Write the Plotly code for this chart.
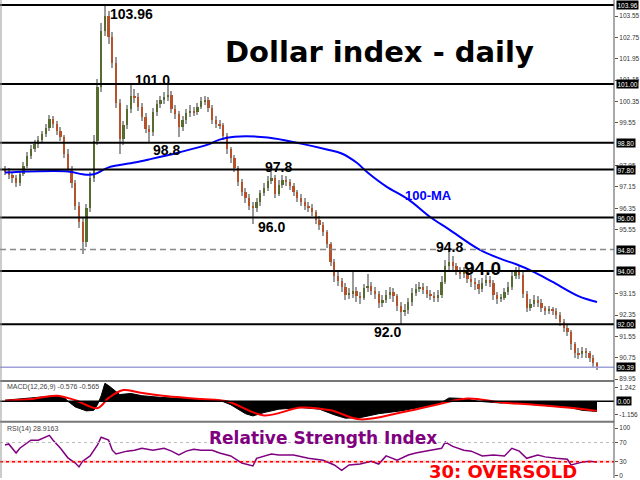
import plotly.graph_objects as go

# ---------------- data ----------------
opens = [97.80, 97.73, 97.60, 97.48, 97.28, 97.62, 97.95, 98.30, 98.58, 98.75,
         98.92, 99.12, 99.36, 99.70, 99.50, 99.25, 99.00, 98.40, 97.82, 97.30,
         96.45, 95.85, 95.10, 96.35, 97.50, 98.85, 100.90, 103.00, 103.55, 102.75,
         101.80, 100.30, 98.95, 99.45, 100.05, 100.55, 100.50, 100.15, 99.75, 99.30,
         99.20, 99.95, 100.25, 100.40, 100.50, 100.60, 100.05, 99.88, 99.40, 99.65,
         99.90, 100.00, 99.95, 100.15, 100.35, 100.40, 100.10, 99.65, 99.50, 99.45,
         99.05, 98.55, 98.22, 97.85, 97.35, 96.95, 96.75, 96.45, 96.35, 96.60,
         96.92, 97.12, 97.38, 97.50, 96.90, 97.22, 97.42, 97.33, 97.18, 96.95,
         96.75, 96.60, 96.45, 96.35, 96.20, 95.90, 95.72, 95.45, 95.02, 94.35,
         93.80, 93.62, 93.40, 93.10, 93.15, 93.25, 93.05, 93.00, 93.35, 93.45,
         93.25, 93.14, 92.80, 92.92, 93.10, 93.20, 93.05, 92.70, 92.45, 92.55,
         92.85, 93.18, 93.32, 93.40, 93.30, 93.15, 93.07, 93.00, 93.10, 93.60,
         94.20, 94.35, 94.18, 94.00, 93.90, 93.98, 93.70, 93.60, 93.50, 93.32,
         93.55, 93.68, 93.55, 93.10, 92.95, 93.00, 93.20, 93.40, 93.80, 94.00,
         93.85, 93.15, 92.62, 92.75, 92.92, 92.80, 92.60, 92.50, 92.55, 92.50,
         92.35, 92.10, 91.88, 91.70, 91.25, 90.92, 90.88, 91.00, 90.92, 90.75,
         90.55]
highs = [97.95, 97.85, 97.72, 97.60, 97.75, 98.10, 98.45, 98.70, 98.90, 99.05,
         99.25, 99.50, 99.85, 99.80, 99.60, 99.40, 99.10, 98.55, 97.95, 97.40,
         96.60, 96.00, 96.50, 97.70, 99.10, 101.20, 103.30, 103.96, 103.75, 102.95,
         102.00, 100.45, 99.60, 100.20, 101.00, 100.80, 100.65, 100.30, 99.90, 99.45,
         100.10, 100.40, 100.55, 100.70, 101.00, 100.75, 100.20, 100.00, 99.80, 100.05,
         100.20, 100.15, 100.30, 100.50, 100.55, 100.50, 100.20, 99.80, 99.65, 99.55,
         99.15, 98.65, 98.35, 97.95, 97.45, 97.10, 96.90, 96.60, 96.75, 97.05,
         97.30, 97.55, 97.80, 97.60, 97.40, 97.60, 97.55, 97.45, 97.30, 97.05,
         96.90, 96.75, 96.60, 96.50, 96.30, 96.05, 95.85, 95.55, 95.10, 94.45,
         94.00, 93.75, 93.55, 93.35, 94.00, 93.40, 93.20, 93.50, 93.90, 93.60,
         93.40, 93.25, 93.10, 93.30, 93.40, 93.35, 93.15, 92.85, 92.75, 93.00,
         93.35, 93.50, 93.60, 93.55, 93.45, 93.30, 93.20, 93.30, 93.80, 94.40,
         94.80, 94.55, 94.30, 94.15, 94.15, 94.05, 93.85, 93.75, 93.65, 93.75,
         93.85, 93.80, 93.65, 93.20, 93.15, 93.35, 93.60, 94.00, 94.15, 94.20,
         93.95, 93.25, 92.95, 93.10, 93.05, 92.95, 92.70, 92.70, 92.65, 92.60,
         92.45, 92.20, 92.00, 91.80, 91.35, 91.10, 91.15, 91.10, 91.00, 90.85,
         90.60]
lows = [97.60, 97.45, 97.30, 97.15, 97.20, 97.55, 97.85, 98.20, 98.45, 98.60,
        98.80, 99.00, 99.25, 99.35, 99.10, 98.85, 98.25, 97.70, 97.10, 96.30,
        95.60, 94.63, 94.90, 96.20, 97.35, 98.70, 100.70, 102.80, 102.50, 101.60,
        100.10, 98.40, 98.70, 99.30, 99.90, 100.30, 100.00, 99.60, 99.15, 98.80,
        99.05, 99.80, 100.10, 100.25, 100.35, 99.90, 99.70, 99.00, 99.25, 99.50,
        99.75, 99.80, 99.85, 100.05, 100.20, 99.95, 99.50, 99.35, 99.30, 98.90,
        98.40, 98.05, 97.70, 97.20, 96.80, 96.55, 96.30, 95.75, 96.20, 96.45,
        96.80, 97.00, 97.25, 96.75, 96.80, 97.10, 97.20, 97.05, 96.80, 96.60,
        96.45, 96.30, 96.20, 96.05, 95.75, 95.55, 95.30, 94.85, 94.20, 93.60,
        93.45, 93.20, 92.90, 92.95, 93.00, 92.85, 92.75, 92.90, 93.20, 93.10,
        92.95, 92.60, 92.65, 92.80, 92.95, 92.85, 92.50, 92.00, 92.30, 92.40,
        92.70, 93.05, 93.20, 93.15, 93.00, 92.90, 92.85, 92.85, 93.00, 93.50,
        94.05, 94.00, 93.85, 93.70, 93.75, 93.55, 93.40, 93.30, 93.15, 93.20,
        93.45, 93.40, 92.90, 92.75, 92.85, 92.90, 93.10, 93.30, 93.70, 93.70,
        93.00, 92.45, 92.50, 92.65, 92.65, 92.45, 92.35, 92.40, 92.35, 92.20,
        91.95, 91.70, 91.55, 91.05, 90.75, 90.70, 90.75, 90.75, 90.60, 90.40,
        90.30]
closes = [97.73, 97.60, 97.48, 97.28, 97.62, 97.95, 98.30, 98.58, 98.75, 98.92,
          99.12, 99.36, 99.70, 99.50, 99.25, 99.00, 98.40, 97.82, 97.30, 96.45,
          95.85, 95.10, 96.35, 97.50, 98.85, 100.90, 103.00, 103.55, 102.75, 101.80,
          100.30, 98.95, 99.45, 100.05, 100.55, 100.50, 100.15, 99.75, 99.30, 99.20,
          99.95, 100.25, 100.40, 100.50, 100.60, 100.05, 99.88, 99.40, 99.65, 99.90,
          100.00, 99.95, 100.15, 100.35, 100.40, 100.10, 99.65, 99.50, 99.45, 99.05,
          98.55, 98.22, 97.85, 97.35, 96.95, 96.75, 96.45, 96.35, 96.60, 96.92,
          97.12, 97.38, 97.50, 96.90, 97.22, 97.42, 97.33, 97.18, 96.95, 96.75,
          96.60, 96.45, 96.35, 96.20, 95.90, 95.72, 95.45, 95.02, 94.35, 93.80,
          93.62, 93.40, 93.10, 93.15, 93.25, 93.05, 93.00, 93.35, 93.45, 93.25,
          93.14, 92.80, 92.92, 93.10, 93.20, 93.05, 92.70, 92.45, 92.55, 92.85,
          93.18, 93.32, 93.40, 93.30, 93.15, 93.07, 93.00, 93.10, 93.60, 94.20,
          94.35, 94.18, 94.00, 93.90, 93.98, 93.70, 93.60, 93.50, 93.32, 93.55,
          93.68, 93.55, 93.10, 92.95, 93.00, 93.20, 93.40, 93.80, 94.00, 93.85,
          93.15, 92.62, 92.75, 92.92, 92.80, 92.60, 92.50, 92.55, 92.50, 92.35,
          92.10, 91.88, 91.70, 91.25, 90.92, 90.88, 91.00, 90.92, 90.75, 90.55,
          90.39]

# 100-period moving average (read at sample bars)
ma_idx = [0, 17, 21, 24, 28, 35, 39, 47, 55, 58, 62, 71, 80, 87, 91, 95, 98,
          103, 109, 115, 120, 128, 134, 138, 143, 148, 155, 160]
ma_val = [97.69, 97.73, 97.62, 97.62, 97.88, 98.06, 98.18, 98.44, 98.74, 98.92,
          99.03, 99.00, 98.77, 98.55, 98.40, 98.06, 97.69, 97.17, 96.68, 96.01,
          95.56, 94.82, 94.45, 94.26, 93.96, 93.59, 93.06, 92.84]

# MACD(12,26,9): main (histogram) and signal
macd_idx = [0, 4, 10, 14, 16, 17, 19, 22, 24, 25, 26, 27, 28, 30, 31, 34, 37, 42,
            47, 53, 58, 61, 65, 67, 70, 74, 80, 85, 89, 92, 96, 101, 107, 112,
            118, 120, 124, 128, 134, 138, 143, 152, 156, 160]
macd_val = [0.1, 0.2, 0.35, 0.5, 0.35, 0.0, -0.5, -0.85, -0.8, -0.3, 0.5, 1.6,
            1.4, 0.9, 0.6, 0.7, 0.5, 0.35, 0.25, 0.15, 0.1, -0.3, -1.1, -1.3,
            -1.0, -0.7, -0.55, -0.7, -1.2, -1.5, -1.45, -1.1, -0.85, -0.55,
            -0.1, 0.3, 0.25, 0.0, -0.15, -0.1, -0.3, -0.5, -0.8, -0.9]
sig_idx = [0, 7, 14, 19, 25, 28, 32, 36, 44, 53, 60, 70, 80, 88, 96, 107, 116,
           125, 134, 143, 152, 160]
sig_val = [0.05, 0.2, 0.5, 0.1, -0.6, 0.3, 1.0, 0.8, 0.45, 0.2, 0.0, -1.25,
           -0.55, -0.8, -1.6, -1.0, -0.35, 0.25, -0.1, -0.3, -0.55, -0.85]

# RSI(14)
rsi_idx = [0, 1, 3, 4, 7, 9, 12, 13, 15, 17, 19, 20, 21, 23, 25, 26, 28, 29, 30,
           33, 35, 37, 40, 43, 45, 47, 49, 51, 53, 56, 58, 61, 64, 67, 68, 72,
           74, 78, 82, 86, 89, 91, 93, 96, 99, 101, 103, 106, 109, 111, 115,
           118, 119, 121, 124, 126, 129, 132, 135, 137, 139, 141, 144, 146, 149,
           152, 153, 156, 158, 160]
rsi_val = [65, 67, 48, 58, 75, 75, 85, 75, 58, 38, 27, 19, 31, 42, 65, 81, 75,
           54, 46, 52, 54, 58, 54, 58, 52, 44, 52, 56, 54, 54, 48, 42, 27, 21,
           37, 46, 44, 44, 37, 33, 23, 12, 23, 25, 31, 25, 42, 33, 44, 48, 54,
           58, 71, 62, 54, 52, 42, 44, 42, 58, 52, 37, 44, 40, 37, 35, 23, 29,
           31, 29]

# horizontal levels
solid_levels = [103.96, 101.0, 98.8, 97.8, 96.0, 94.0, 92.0]
dashed_level = 94.8
last_price = 90.39
boxed_levels = [103.96, 101.00, 98.80, 97.80, 96.00, 94.80, 94.00, 92.00, 90.39]
price_ticks = [103.55, 102.75, 101.95, 101.15, 100.35, 99.55, 97.95,
               97.15, 96.35, 95.55, 93.15, 92.35, 91.55, 90.75, 89.95]

# chart labels: (text, x px, y px, size, colour)
chart_labels = [
    ("103.96", 108, 14, 14, "black"),
    ("101.0", 133, 80, 14, "black"),
    ("98.8", 151, 151, 14, "black"),
    ("97.8", 263, 168, 14, "black"),
    ("96.0", 256, 228, 14, "black"),
    ("94.8", 434, 248, 14, "black"),
    ("94.0", 462, 270, 19, "black"),
    ("92.0", 372, 333, 14, "black"),
    ("100-MA", 403, 196, 13, "#0000ff"),
]

# ---------------- figure ----------------
W, H = 640, 480
XD = 614 / W  # right edge of plotting area in paper units
FONT = "Liberation Sans, Arial, sans-serif"
WIDE = "DejaVu Sans, Verdana, sans-serif"


def px(x, y):
    return x / W, 1 - y / H


n = len(closes)
idx = list(range(n))
up = [i for i in idx if closes[i] >= opens[i]]
dn = [i for i in idx if closes[i] < opens[i]]

fig = go.Figure()

# wicks
fig.add_trace(go.Bar(x=idx, y=[highs[i] - lows[i] for i in idx], base=lows,
                     width=0.3, marker=dict(color="#9a9a9a", line=dict(width=0)),
                     xaxis="x", yaxis="y", hoverinfo="skip"))
# bodies
fig.add_trace(go.Bar(x=up, y=[max(closes[i] - opens[i], 0.03) for i in up],
                     base=[opens[i] for i in up], width=0.62,
                     marker=dict(color="#556B2F", line=dict(width=0)),
                     xaxis="x", yaxis="y"))
fig.add_trace(go.Bar(x=dn, y=[max(opens[i] - closes[i], 0.03) for i in dn],
                     base=[closes[i] for i in dn], width=0.62,
                     marker=dict(color="#B5522B", line=dict(width=0)),
                     xaxis="x", yaxis="y"))
# moving average
fig.add_trace(go.Scatter(x=ma_idx, y=ma_val, mode="lines",
                         line=dict(color="#0000ff", width=2, shape="spline"),
                         xaxis="x", yaxis="y"))
# MACD
fig.add_trace(go.Scatter(x=macd_idx, y=macd_val, mode="lines", fill="tozeroy",
                         fillcolor="black", line=dict(color="black", width=1),
                         xaxis="x2", yaxis="y2"))
fig.add_trace(go.Scatter(x=sig_idx, y=sig_val, mode="lines",
                         line=dict(color="#ff0000", width=2, shape="spline"),
                         xaxis="x2", yaxis="y2"))
# RSI
fig.add_trace(go.Scatter(x=rsi_idx, y=rsi_val, mode="lines",
                         line=dict(color="#800080", width=1.5),
                         xaxis="x3", yaxis="y3"))

xr = [-1.35, 164.6]
axis_common = dict(showgrid=False, zeroline=False, showline=False,
                   side="right", ticks="outside", ticklen=3, tickcolor="#555",
                   tickfont=dict(family=FONT, size=6.5, color="#333"))

shapes = []
for lv in solid_levels:
    shapes.append(dict(type="line", xref="paper", yref="y", x0=0, x1=XD,
                       y0=lv, y1=lv, line=dict(color="black", width=2)))
shapes.append(dict(type="line", xref="paper", yref="y", x0=0, x1=XD,
                   y0=dashed_level, y1=dashed_level,
                   line=dict(color="#888", width=1.5, dash="6px,4px")))
shapes.append(dict(type="line", xref="paper", yref="y", x0=0, x1=XD,
                   y0=last_price, y1=last_price,
                   line=dict(color="#a0a0d8", width=1.5)))
# MACD zero line
shapes.append(dict(type="line", xref="paper", yref="y2", x0=0, x1=XD,
                   y0=0, y1=0, line=dict(color="black", width=1.5)))
# RSI levels
shapes.append(dict(type="line", xref="paper", yref="y3", x0=0, x1=XD,
                   y0=70, y1=70, line=dict(color="#bbb", width=1, dash="3px,3px")))
shapes.append(dict(type="rect", xref="paper", yref="y3", x0=0, x1=XD,
                   y0=27, y1=33, fillcolor="#ffd6d6", line=dict(width=0),
                   layer="below"))
shapes.append(dict(type="line", xref="paper", yref="y3", x0=0, x1=XD,
                   y0=30, y1=30, line=dict(color="#ff0000", width=1.5, dash="dot")))
# panel separators and frame
for yy in (382.5, 423.5):
    shapes.append(dict(type="line", xref="paper", yref="paper", x0=0, x1=XD,
                       y0=1 - yy / H, y1=1 - yy / H,
                       line=dict(color="#777", width=2)))
shapes.append(dict(type="line", xref="paper", yref="paper", x0=XD, x1=XD,
                   y0=0, y1=1, line=dict(color="#555", width=1)))
shapes.append(dict(type="line", xref="paper", yref="paper", x0=1 / W, x1=1 / W,
                   y0=0, y1=1, line=dict(color="#999", width=1)))

ann = []
tx, ty = px(379, 52)
ann.append(dict(text="<b>Dollar index - daily</b>", x=tx, y=ty, xref="paper",
                yref="paper", xanchor="center", yanchor="middle", showarrow=False,
                font=dict(family=WIDE, size=29, color="black")))
for text, x, y, s, c in chart_labels:
    ax, ay = px(x, y)
    ann.append(dict(text="<b>%s</b>" % text, x=ax, y=ay, xref="paper",
                    yref="paper", xanchor="left", yanchor="middle",
                    showarrow=False, font=dict(family=FONT, size=s, color=c)))
for lv in boxed_levels:
    ann.append(dict(text="%.2f" % lv, x=XD + 1.5 / W, y=lv, xref="paper",
                    yref="y", xanchor="left", yanchor="middle", showarrow=False,
                    bgcolor="black", borderpad=0.5,
                    font=dict(family=FONT, size=6.5, color="white")))
ann.append(dict(text="0.00", x=XD + 1.5 / W, y=0, xref="paper", yref="y2",
                xanchor="left", yanchor="middle", showarrow=False,
                bgcolor="black", borderpad=0.5,
                font=dict(family=FONT, size=6.5, color="white")))
lx, ly = px(5, 389)
ann.append(dict(text="MACD(12,26,9) -0.576 -0.565", x=lx, y=ly, xref="paper",
                yref="paper", xanchor="left", yanchor="middle", showarrow=False,
                font=dict(family=FONT, size=7, color="#444")))
lx, ly = px(5, 431)
ann.append(dict(text="RSI(14) 28.9163", x=lx, y=ly, xref="paper",
                yref="paper", xanchor="left", yanchor="middle", showarrow=False,
                font=dict(family=FONT, size=7, color="#444")))
lx, ly = px(207, 440)
ann.append(dict(text="<b>Relative Strength Index</b>", x=lx, y=ly,
                xref="paper", yref="paper", xanchor="left", yanchor="middle",
                showarrow=False, font=dict(family=WIDE, size=17, color="#800080")))
lx, ly = px(427, 473)
ann.append(dict(text="<b>30: OVERSOLD</b>", x=lx, y=ly,
                xref="paper", yref="paper", xanchor="left", yanchor="middle",
                showarrow=False, font=dict(family=WIDE, size=18, color="#ff0000")))

fig.update_layout(
    width=W, height=H, margin=dict(l=0, r=0, t=0, b=0),
    paper_bgcolor="white", plot_bgcolor="white", showlegend=False,
    barmode="overlay", bargap=0,
    xaxis=dict(domain=[0, XD], range=xr, visible=False, anchor="y",
               fixedrange=True),
    xaxis2=dict(domain=[0, XD], range=xr, visible=False, anchor="y2",
                matches="x"),
    xaxis3=dict(domain=[0, XD], range=xr, visible=False, anchor="y3",
                matches="x"),
    yaxis=dict(domain=[1 - 382 / H, 1], range=[89.90, 104.15], anchor="x",
               tickvals=price_ticks, ticktext=["%.2f" % v for v in price_ticks],
               **axis_common),
    yaxis2=dict(domain=[1 - 423 / H, 1 - 384 / H], range=[-1.77, 1.68],
                anchor="x2", tickvals=[1.242, -1.156],
                ticktext=["1.242", "-1.156"], **axis_common),
    yaxis3=dict(domain=[0, 1 - 425 / H], range=[-4.2, 110.4], anchor="x3",
                tickvals=[100, 70, 30, 0], ticktext=["100", "70", "30", "0"],
                **axis_common),
    shapes=shapes, annotations=ann,
)

fig.write_html("out.html", config={"displayModeBar": False},
               post_script="document.body.style.margin='0';"
                           "document.body.style.overflow='hidden';")
